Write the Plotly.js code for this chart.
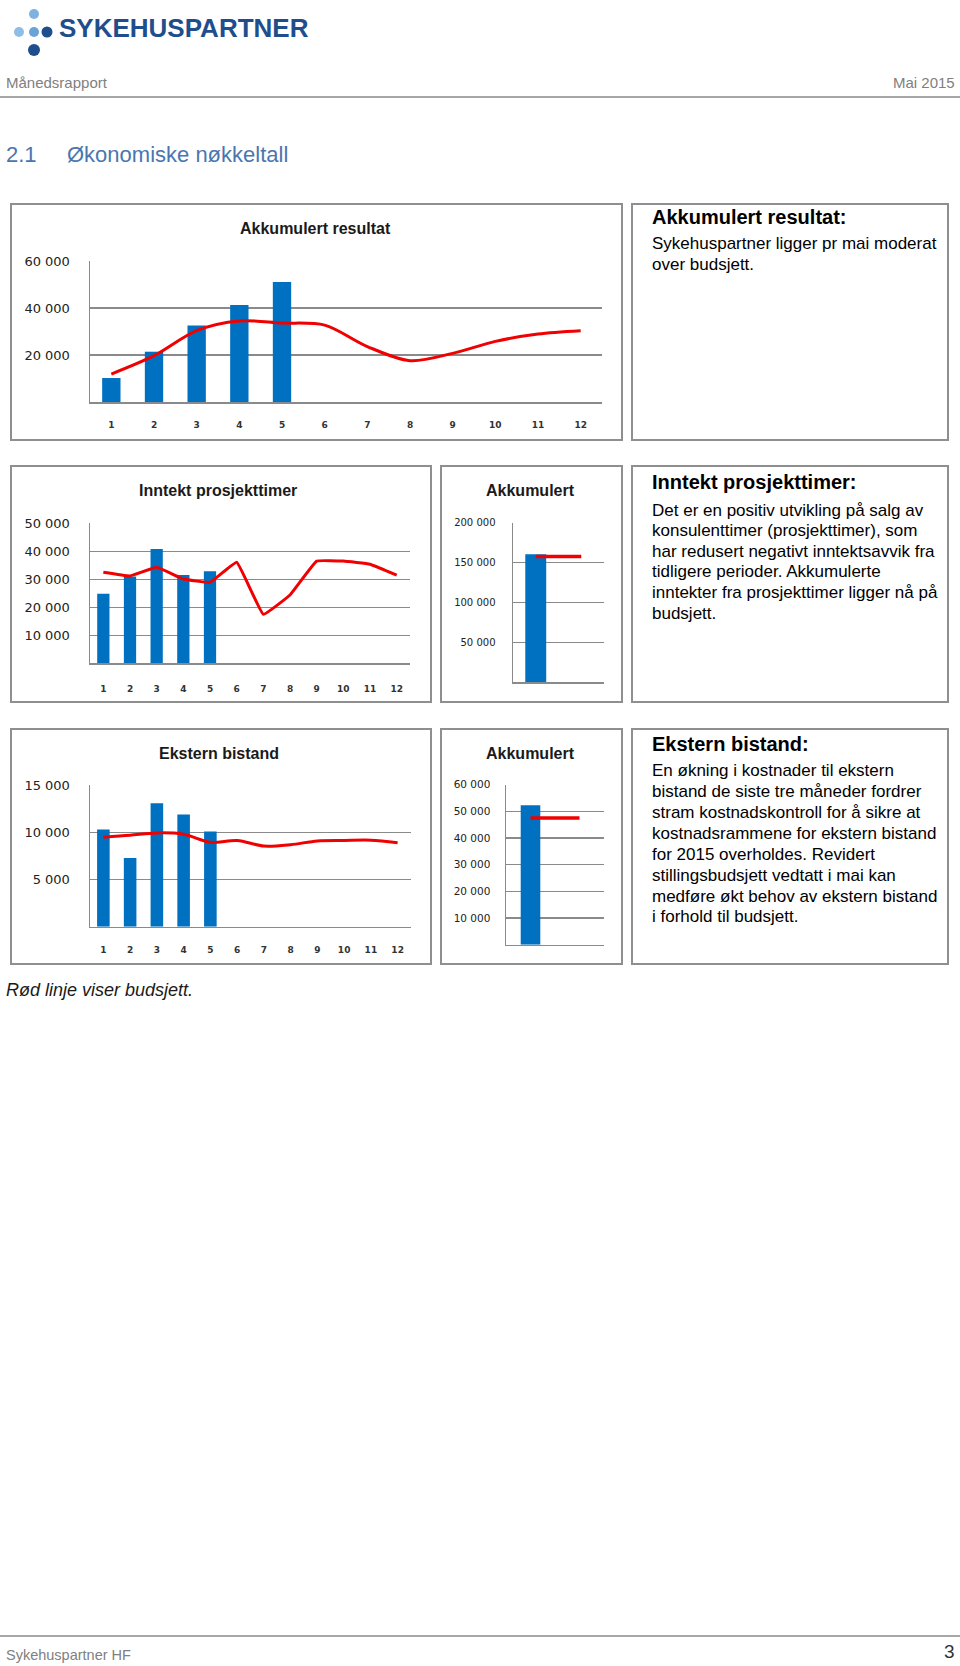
<!DOCTYPE html>
<html>
<head>
<meta charset="utf-8">
<script src="https://cdn.plot.ly/plotly-3.0.1.min.js"></script>
<style>
html,body{margin:0;padding:0;background:#fff;}
#page{width:960px;height:1666px;}
</style>
</head>
<body>
<div id="page"></div>
<script>
// ---------------- data ----------------
const months = [1, 2, 3, 4, 5, 6, 7, 8, 9, 10, 11, 12];
const actualMonths = [1, 2, 3, 4, 5];

const resultatActual = [10200, 21400, 32600, 41300, 51100];
const resultatBudget = [11900, 19700, 30400, 34500, 33600, 32700, 23600, 17600, 20700, 25800, 28900, 30300];
const resultatTicks = [20000, 40000, 60000];

const prosjektActual = [24800, 31000, 40800, 31500, 32900];
const prosjektBudget = [32500, 31200, 34300, 30100, 28900, 36100, 17500, 24400, 36500, 36500, 35400, 31500];
const prosjektTicks = [10000, 20000, 30000, 40000, 50000];

const akkSlots = [1, 2];
const prosjektAkkActual = [160500, null];
const prosjektAkkBudget = [157500, 157500];
const prosjektAkkTicks = [50000, 100000, 150000, 200000];

const eksternActual = [10300, 7300, 13100, 11900, 10100];
const eksternBudget = [9500, 9700, 9950, 9800, 8950, 9150, 8550, 8700, 9100, 9150, 9180, 8900];
const eksternTicks = [5000, 10000, 15000];

const eksternAkkActual = [52300, null];
const eksternAkkBudget = [47500, 47500];
const eksternAkkTicks = [10000, 20000, 30000, 40000, 50000, 60000];

const chartTitles = ['Akkumulert resultat', 'Inntekt prosjekttimer', 'Akkumulert', 'Ekstern bistand', 'Akkumulert'];

const box1Head = 'Akkumulert resultat:';
const box1Lines = ['Sykehuspartner ligger pr mai moderat', 'over budsjett.'];
const box2Head = 'Inntekt prosjekttimer:';
const box2Lines = ['Det er en positiv utvikling på salg av', 'konsulenttimer (prosjekttimer), som',
  'har redusert negativt inntektsavvik fra', 'tidligere perioder. Akkumulerte',
  'inntekter fra prosjekttimer ligger nå på', 'budsjett.'];
const box3Head = 'Ekstern bistand:';
const box3Lines = ['En økning i kostnader til ekstern', 'bistand de siste tre måneder fordrer',
  'stram kostnadskontroll for å sikre at', 'kostnadsrammene for ekstern bistand',
  'for 2015 overholdes. Revidert', 'stillingsbudsjett vedtatt i mai kan',
  'medføre økt behov av ekstern bistand', 'i forhold til budsjett.'];

// ---------------- helpers ----------------
const W = 960, H = 1666;
const X = px => px / W;
const Y = py => 1 - py / H;
const BLUE = '#0070C0', RED = '#F00000', GRID = '#8a8a8a', BOX = '#8f8f8f';

function xAx(left, right, n, standoff, showLabels, anchor) {
  return {
    domain: [X(left), X(right)], range: [0.5, n + 0.5], anchor: anchor,
    tickvals: showLabels ? months : [], ticktext: showLabels ? months.map(String) : [],
    showticklabels: showLabels, showgrid: false, zeroline: false,
    showline: true, linecolor: GRID, linewidth: 1.5, ticks: '',
    ticklabelstandoff: standoff,
    tickfont: {family: 'DejaVu Sans', size: 9, weight: 'bold', color: '#333'},
    fixedrange: true
  };
}
function yAx(top, bottom, max, ticks, fsize, standoff, anchor) {
  return {
    domain: [Y(bottom), Y(top)], range: [0, max], anchor: anchor,
    tickvals: ticks, tickformat: ',.0f',
    showgrid: true, gridcolor: GRID, gridwidth: 1.5, zeroline: false,
    showline: true, linecolor: GRID, linewidth: 1.5, ticks: '',
    ticklabelstandoff: standoff,
    tickfont: {family: 'DejaVu Sans', size: fsize, color: '#222'},
    fixedrange: true
  };
}
function bar(x, y, xa, ya, w) {
  return {type: 'bar', x: x, y: y, xaxis: xa, yaxis: ya, width: w,
    marker: {color: BLUE, line: {width: 0}}, hoverinfo: 'skip', showlegend: false};
}
function line(x, y, xa, ya, smooth, width) {
  return {type: 'scatter', mode: 'lines', x: x, y: y, xaxis: xa, yaxis: ya,
    line: {color: RED, width: width, shape: smooth ? 'spline' : 'linear', smoothing: smooth || 0},
    hoverinfo: 'skip', showlegend: false};
}

const traces = [
  bar(actualMonths, resultatActual, 'x', 'y', 0.43),
  line(months, resultatBudget, 'x', 'y', 0.9, 3),
  bar(actualMonths, prosjektActual, 'x2', 'y2', 0.46),
  line(months, prosjektBudget, 'x2', 'y2', 0.25, 3),
  bar(akkSlots, prosjektAkkActual, 'x3', 'y3', 0.46),
  line(akkSlots, prosjektAkkBudget, 'x3', 'y3', 0, 3.5),
  bar(actualMonths, eksternActual, 'x4', 'y4', 0.47),
  line(months, eksternBudget, 'x4', 'y4', 0.9, 3),
  bar(akkSlots, eksternAkkActual, 'x5', 'y5', 0.4),
  line(akkSlots, eksternAkkBudget, 'x5', 'y5', 0, 3.5)
];

// ---------------- annotations ----------------
const ann = [];
function txt(text, x, y, opts) {
  opts = opts || {};
  ann.push({
    text: text, x: X(x), y: Y(y), xref: 'paper', yref: 'paper', showarrow: false,
    xanchor: opts.xanchor || 'left', yanchor: 'middle',
    font: {family: opts.family || 'Liberation Sans', size: opts.size || 14,
      color: opts.color || '#1a1a1a', weight: opts.weight || 'normal', style: opts.style || 'normal'}
  });
}
// header
txt('SYKEHUSPARTNER', 57, 28, {size: 26, weight: 'bold', color: '#1f4e8d'});
txt('Månedsrapport', 4, 82, {size: 15, color: '#808080'});
txt('Mai 2015', 957, 82, {size: 15, color: '#808080', xanchor: 'right'});
txt('2.1', 4, 154, {size: 22, color: '#4a76b0'});
txt('Økonomiske nøkkeltall', 65, 154, {size: 22, color: '#4a76b0'});
// chart titles
const tpos = [[315, 228], [218, 491], [530, 491], [219, 753], [530, 753]];
chartTitles.forEach((t, i) => txt(t, tpos[i][0], tpos[i][1], {size: 16, weight: 'bold', xanchor: 'center', color: '#1a1a1a'}));
// text boxes
txt(box1Head, 650, 217, {size: 20, weight: 'bold', color: '#000'});
box1Lines.forEach((l, i) => txt(l, 650, 243.3 + i * 21.7, {size: 17, color: '#000'}));
txt(box2Head, 650, 482, {size: 20, weight: 'bold', color: '#000'});
box2Lines.forEach((l, i) => txt(l, 650, 510 + i * 20.6, {size: 17, color: '#000'}));
txt(box3Head, 650, 744, {size: 20, weight: 'bold', color: '#000'});
box3Lines.forEach((l, i) => txt(l, 650, 770.3 + i * 20.95, {size: 17, color: '#000'}));
// caption & footer
txt('Rød linje viser budsjett.', 4, 990, {size: 18, style: 'italic', color: '#1a1a1a'});
txt('Sykehuspartner HF', 4, 1655, {size: 14.5, color: '#808080'});
txt('3', 957, 1651, {size: 19, color: '#333', xanchor: 'right'});

// ---------------- shapes ----------------
const shapes = [];
function rect(x0, y0, x1, y1) {
  shapes.push({type: 'rect', xref: 'paper', yref: 'paper', x0: X(x0), x1: X(x1), y0: Y(y1), y1: Y(y0),
    line: {color: BOX, width: 2}, fillcolor: 'rgba(0,0,0,0)', layer: 'below'});
}
function hline(y, color, w) {
  shapes.push({type: 'line', xref: 'paper', yref: 'paper', x0: 0, x1: 1, y0: Y(y), y1: Y(y),
    line: {color: color, width: w}});
}
function dot(cx, cy, r, color) {
  shapes.push({type: 'circle', xref: 'paper', yref: 'paper', x0: X(cx - r), x1: X(cx + r),
    y0: Y(cy + r), y1: Y(cy - r), line: {width: 0}, fillcolor: color});
}
rect(11, 204, 622, 440); rect(632, 204, 948, 440);
rect(11, 466, 431, 702); rect(441, 466, 622, 702); rect(632, 466, 948, 702);
rect(11, 729, 431, 964); rect(441, 729, 622, 964); rect(632, 729, 948, 964);
hline(97, '#a6a6a6', 2);
hline(1636, '#a6a6a6', 2);
// logo dots
dot(34, 14, 5, '#7fb2e0');
dot(19, 32, 5, '#8fbde6');
dot(34, 32, 5, '#6aa3d8');
dot(47, 32, 5.5, '#1f4e8d');
dot(34, 50, 6, '#1f4e8d');

const layout = {
  width: W, height: H, margin: {l: 0, r: 0, t: 0, b: 0},
  paper_bgcolor: '#fff', plot_bgcolor: 'rgba(0,0,0,0)',
  separators: ', ', showlegend: false, barmode: 'overlay',
  xaxis: xAx(90, 602, 12, 14, true, 'y'),
  yaxis: yAx(261, 402, 60000, resultatTicks, 13, 16, 'x'),
  xaxis2: xAx(90, 410, 12, 16, true, 'y2'),
  yaxis2: yAx(523.3, 663.3, 50000, prosjektTicks, 13, 16, 'x2'),
  xaxis3: xAx(513, 604, 2, 10, false, 'y3'),
  yaxis3: yAx(522.7, 682.3, 200000, prosjektAkkTicks, 10, 14, 'x3'),
  xaxis4: xAx(90, 411, 12, 14, true, 'y4'),
  yaxis4: yAx(785.3, 926.7, 15000, eksternTicks, 13, 16, 'x4'),
  xaxis5: xAx(506, 604, 2, 10, false, 'y5'),
  yaxis5: yAx(784.7, 944.7, 60000, eksternAkkTicks, 10.5, 12, 'x5'),
  annotations: ann, shapes: shapes
};

Plotly.newPlot('page', traces, layout, {displayModeBar: false, staticPlot: true});
</script>
</body>
</html>
